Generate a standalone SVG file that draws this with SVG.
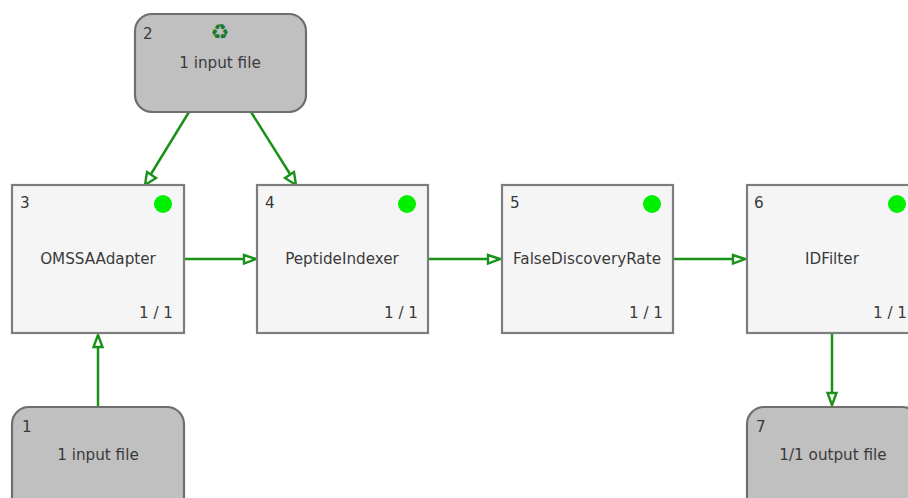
<svg xmlns="http://www.w3.org/2000/svg" width="908" height="498" viewBox="0 0 908 498">
<style>
text{font-family:"DejaVu Sans",sans-serif;font-size:15.2px;fill:#3a3a3a}
.m{text-anchor:middle}
.e{text-anchor:end}
.tool{fill:#f5f5f5;stroke:#7d7d7d;stroke-width:2.2}
.io{fill:#c0c0c0;stroke:#6e6e6e;stroke-width:2.2}
.dot{fill:#00f000}
.c line{stroke:#1a921a;stroke-width:2.5}
.c path{fill:#fff;stroke:#1a921a;stroke-width:2.4;stroke-linejoin:miter}
</style>
<rect width="908" height="498" fill="#fff"/>
<g id="connectors" class="c">
<line x1="189" y1="112" x2="151" y2="174"/><path d="M145 185L147 172L156 178Z"/>
<line x1="251" y1="112" x2="290" y2="174"/><path d="M296 185L285 178L294 172Z"/>
<line x1="185" y1="259" x2="244" y2="259"/><path d="M256 259L244 255V263.500Z"/>
<line x1="429" y1="259" x2="488" y2="259"/><path d="M500 259L488 255V263.500Z"/>
<line x1="673" y1="259" x2="733" y2="259"/><path d="M745 259L733 255V263.500Z"/>
<line x1="98" y1="407" x2="98" y2="347"/><path d="M98 335L102.500 347H93.500Z"/>
<line x1="832" y1="333" x2="832" y2="393"/><path d="M832 405L827.500 393H836.500Z"/>
</g>
<g id="node2"><rect class="io" x="135" y="14" width="171" height="98" rx="17"/><text x="143" y="39">2</text><text class="m" x="220" y="39" style="font-size:21px;fill:#1a7a30">♻</text><text class="m" x="220" y="68">1 input file</text></g>
<g id="node3"><rect class="tool" x="12" y="185" width="172" height="148"/><text x="20" y="208">3</text><circle class="dot" cx="163" cy="204" r="9"/><text class="m" x="98" y="264">OMSSAAdapter</text><text class="e" x="173" y="318">1 / 1</text></g>
<g id="node4"><rect class="tool" x="257" y="185" width="171" height="148"/><text x="265" y="208">4</text><circle class="dot" cx="407" cy="204" r="9"/><text class="m" x="342" y="264">PeptideIndexer</text><text class="e" x="418" y="318">1 / 1</text></g>
<g id="node5"><rect class="tool" x="502" y="185" width="171" height="148"/><text x="510" y="208">5</text><circle class="dot" cx="652" cy="204" r="9"/><text class="m" x="587" y="264">FalseDiscoveryRate</text><text class="e" x="663" y="318">1 / 1</text></g>
<g id="node6"><rect class="tool" x="747" y="185" width="172" height="148"/><text x="754" y="208">6</text><circle class="dot" cx="897" cy="204" r="9"/><text class="m" x="832" y="264">IDFilter</text><text class="e" x="907" y="318">1 / 1</text></g>
<g id="node1"><rect class="io" x="12" y="407" width="172" height="110" rx="17"/><text x="22" y="432">1</text><text class="m" x="98" y="460">1 input file</text></g>
<g id="node7"><rect class="io" x="747" y="407" width="172" height="110" rx="17"/><text x="756" y="432">7</text><text class="m" x="833" y="460">1/1 output file</text></g>
</svg>
